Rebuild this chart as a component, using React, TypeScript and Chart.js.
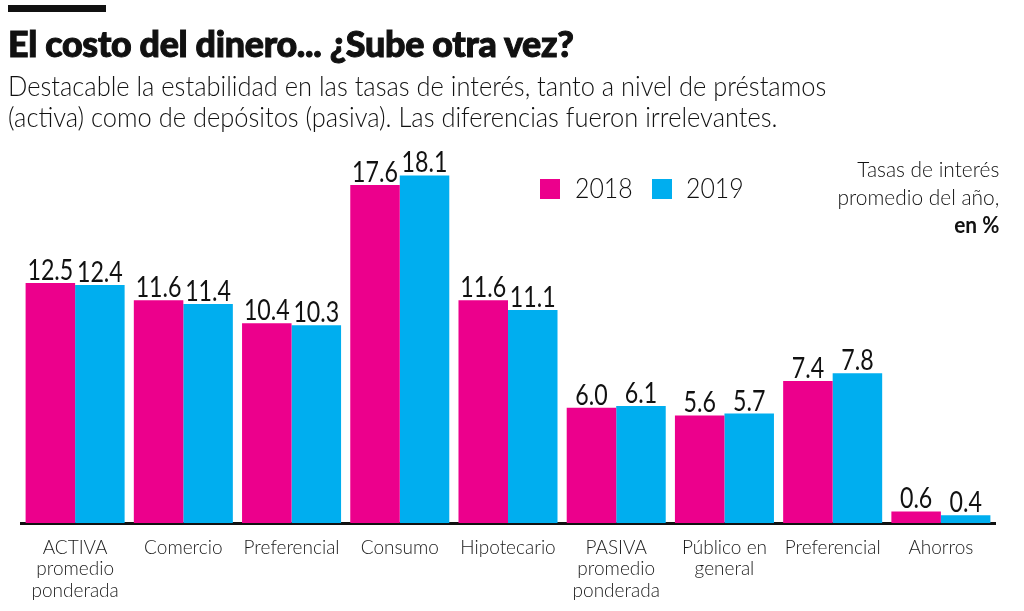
import React, { useEffect, useRef } from "react";
import { Chart, registerables } from "chart.js";

Chart.register(...registerables);

const categories: (string | string[])[] = [
  ["ACTIVA", "promedio", "ponderada"],
  "Comercio",
  "Preferencial",
  "Consumo",
  "Hipotecario",
  ["PASIVA", "promedio", "ponderada"],
  ["Público en", "general"],
  "Preferencial",
  "Ahorros",
];
const rates2018 = [12.5, 11.6, 10.4, 17.6, 11.6, 6.0, 5.6, 7.4, 0.6];
const rates2019 = [12.4, 11.4, 10.3, 18.1, 11.1, 6.1, 5.7, 7.8, 0.4];
const seriesNames = ["2018", "2019"];

const PINK = "#EC008C";
const BLUE = "#00AEEF";
const INK = "#111111";

// Value labels above each bar, drawn slightly condensed.
const valueLabels = {
  id: "valueLabels",
  afterDatasetsDraw(chart: any) {
    const ctx = chart.ctx;
    ctx.save();
    ctx.fillStyle = INK;
    ctx.font = "400 29px Lato";
    ctx.textAlign = "center";
    ctx.textBaseline = "alphabetic";
    chart.data.datasets.forEach((ds: any, di: number) => {
      const meta = chart.getDatasetMeta(di);
      meta.data.forEach((el: any, i: number) => {
        const v = ds.data[i] as number;
        ctx.save();
        ctx.translate(el.x, el.y - 3);
        ctx.scale(0.8, 1);
        ctx.fillText(v.toFixed(1), 0, 0);
        ctx.restore();
      });
    });
    ctx.restore();
  },
};

type TxtProps = {
  left?: number;
  right?: number;
  top: number;
  size: number;
  weight?: number;
  lineHeight?: number;
  sx?: number;
  align?: "left" | "right";
  children: React.ReactNode;
  spacing?: number;
  stroke?: number;
};

function Txt({ left, right, top, size, weight = 400, lineHeight, sx = 1, align = "left", children, spacing = 0, stroke = 0 }: TxtProps) {
  return (
    <div
      style={{
        position: "absolute",
        left,
        right,
        top,
        fontFamily: "Lato, sans-serif",
        fontSize: size,
        fontWeight: weight,
        lineHeight: lineHeight ? `${lineHeight}px` : 1,
        color: INK,
        whiteSpace: "nowrap",
        textAlign: align,
        letterSpacing: spacing,
        WebkitTextStroke: stroke ? `${stroke}px ${INK}` : undefined,
        transform: `scaleX(${sx})`,
        transformOrigin: align === "right" ? "right top" : "left top",
      }}
    >
      {children}
    </div>
  );
}

export default function App() {
  const canvasRef = useRef<HTMLCanvasElement | null>(null);

  useEffect(() => {
    if (!canvasRef.current) return;
    const chart = new Chart(canvasRef.current, {
      type: "bar",
      data: {
        labels: categories,
        datasets: [
          {
            label: seriesNames[0],
            data: rates2018,
            backgroundColor: PINK,
            categoryPercentage: 0.915,
            barPercentage: 1,
          },
          {
            label: seriesNames[1],
            data: rates2019,
            backgroundColor: BLUE,
            categoryPercentage: 0.915,
            barPercentage: 1,
          },
        ],
      },
      options: {
        animation: false,
        responsive: false,
        maintainAspectRatio: false,
        layout: { padding: { top: 139, left: 21, right: 29, bottom: 0 } },
        plugins: {
          legend: { display: false },
          tooltip: { enabled: false },
          title: { display: false },
        },
        scales: {
          y: { display: false, min: 0, max: 20 },
          x: {
            grid: { display: false, drawTicks: false },
            border: { display: true, color: INK, width: 3 },
            ticks: {
              color: "#1a1a1a",
              font: { family: "Lato", size: 19, weight: "300", lineHeight: 1.13 },
              padding: 14,
              maxRotation: 0,
              autoSkip: false,
            },
            afterFit(scale: any) {
              scale.height = 88;
            },
          },
        },
      },
      plugins: [valueLabels],
    });
    return () => chart.destroy();
  }, []);

  return (
    <div style={{ position: "absolute", left: 0, top: 0, width: 1024, height: 611, background: "#fff", overflow: "hidden" }}>
      <canvas ref={canvasRef} width={1024} height={611} style={{ position: "absolute", left: 0, top: 0 }} />
      <div style={{ position: "absolute", left: 8, top: 5, width: 98, height: 7, background: INK }} />
      <Txt left={8} top={25} size={36} weight={900} sx={0.995} spacing={-0.3} stroke={1}>
        El costo del dinero... ¿Sube otra vez?
      </Txt>
      <Txt left={8} top={70} size={27} weight={300} lineHeight={31} sx={0.943}>
        Destacable la estabilidad en las tasas de interés, tanto a nivel de préstamos
        <br />
        (activa) como de depósitos (pasiva). Las diferencias fueron irrelevantes.
      </Txt>
      <div style={{ position: "absolute", left: 540, top: 179, width: 20, height: 20, background: PINK }} />
      <Txt left={575} top={174} size={27} weight={300} sx={0.92}>
        {seriesNames[0]}
      </Txt>
      <div style={{ position: "absolute", left: 652, top: 179, width: 20, height: 20, background: BLUE }} />
      <Txt left={686} top={174} size={27} weight={300} sx={0.92}>
        {seriesNames[1]}
      </Txt>
      <Txt right={25} top={155} size={22} weight={300} lineHeight={28} sx={0.95} align="right">
        Tasas de interés
        <br />
        promedio del año,
        <br />
        <span style={{ fontWeight: 700 }}>en %</span>
      </Txt>
    </div>
  );
}
